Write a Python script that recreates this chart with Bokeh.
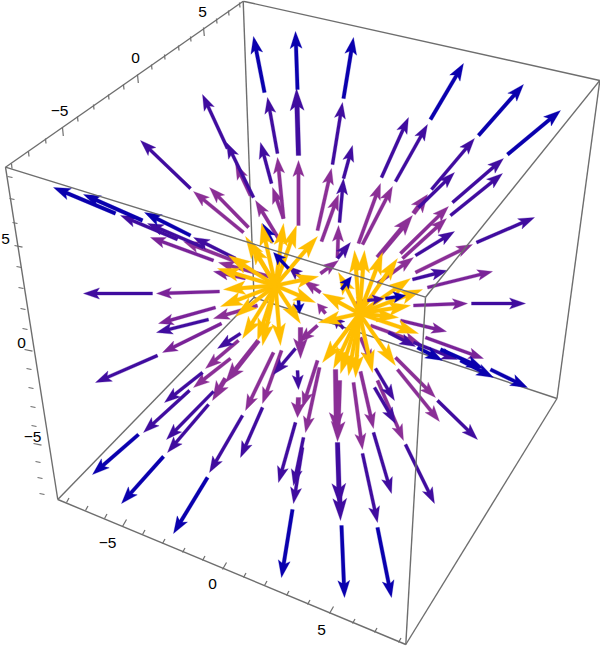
import math
from bokeh.plotting import figure
from bokeh.models import Range1d
from bokeh.core.properties import value
from bokeh.embed import file_html
from bokeh.resources import INLINE

# values, in the picture's projected coordinates: (tail x, tail y, tip x, tip y)
purple = [
 (250,195,235,163),(278,238,255,200),(283,218,272,187),(283,218,277,157),(298,225,298,160),
 (243,232,193,191),(248,227,209,187),(240,263,183,241),(272,277,218,262),
 (320,292,303,280),(325,313,317,303),
 (317,230,331,168),(321,241,338,194),(337,257,338,225),(320,273,338,260),
 (358,243,380,183),(362,244,392,186),(400,253,448,206),
 (402,258,446,218),(415,272,472,244),(377,283,413,257),
 (355,303,365,300),(370,325,420,343),(395,357,435,397),
 (397,369,439,421),(377,380,403,440),(360,371,373,428),(353,382,362,449),
 (360,337,372,365),(317,360,302,407),(319,367,305,432),
 (281,350,262,403),(273,352,245,410),
 (238,340,205,368),(230,358,193,387),(257,305,213,318),
 (317,325,298,342),
]
purple_outer = [
 (213,260,150,237),(245,278,213,271),(219,291,156,293),(427,287,492,271),(413,305,467,303),
 (400,320,446,331),(425,337,483,358),(221,323,162,352),(215,307,158,323),
]
purple_thick = [
 (258,340,225,382),(225,378,212,400),(335,369,336,432),(339,380,337,441),(377,257,412,215),
 (413,213,427,194),(298,397,297,417),(300,327,300,358),
]
indigo = [
 (277,153,267,97),(271,183,260,142),(227,148,202,94),(253,197,226,142),(190,188,140,140),
 (235,258,193,237),(177,239,120,215),(203,247,147,223),(152,293,83,293),(302,278,288,266),
 (332,164,342,102),(339,222,343,178),(343,178,352,145),(337,258,350,242),(381,177,408,117),
 (395,181,427,124),(431,189,474,138),(452,202,503,158),(450,215,502,173),(418,207,454,172),
 (415,255,454,231),(476,242,534,217),(412,279,447,270),(471,303,525,303),(388,332,415,346),
 (413,342,457,359),(437,400,477,439),(375,368,394,400),(374,387,395,423),(405,444,434,503),
 (373,432,391,493),(362,453,377,522),(303,437,293,485),
 (295,422,278,482),(302,447,293,503),(297,370,298,389),(295,348,273,374),(262,407,240,457),
 (242,415,209,472),(240,333,217,348),(202,372,164,402),(189,390,143,432),(213,391,166,439),
 (208,404,167,452),(157,355,95,382),(208,319,156,332),(343,328,332,315),
]
indigo_thick = [(298,155,296,88),(337,442,339,505),(339,490,340,520)]
blue = [
 (264,92,253,36),(297,89,295,31),(115,213,53,187),(142,220,83,194),(190,235,144,212),
 (343,98,353,37),(430,119,463,63),(478,135,523,84),(507,154,560,110),(417,347,442,360),
 (440,349,483,368),(460,360,493,377),(490,369,527,387),(377,527,391,597),(341,525,344,597),
 (292,509,281,577),(207,477,173,533),(138,434,92,474),(163,456,121,503),(272,242,262,223),
]
yellow = [
 (275,285,245,236),(275,285,261,223),(275,285,283,223),(275,285,296,225),(275,285,317,236),
 (275,285,318,276),(275,285,315,302),(275,285,300,323),(275,285,280,345),(275,285,257,340),
 (275,285,242,338),(275,285,235,316),(275,285,220,306),(275,285,223,289),(275,285,217,268),
 (275,285,228,255),(275,285,250,242),(275,285,262,345),
 (359,313,354,250),(359,313,338,272),(359,313,382,252),(359,313,397,258),(359,313,410,278),
 (359,313,422,289),(359,313,410,305),(359,313,398,317),(359,313,418,333),(359,313,395,365),
 (359,313,372,372),(359,313,355,377),(359,313,340,373),(359,313,333,368),(359,313,322,362),
 (359,313,318,322),(359,313,322,293),(359,313,348,375),(359,313,364,250),
]
front_blue = [(288,268,273,252),(341,289,351,276),(385,298,405,295),(298,300,299,313)]
front_indigo = [(367,300,383,298)]

axis_c_a_x = [11,28,45,62,77,93,108,123,137,151,164,178,190,203,216,228,239]
axis_c_a_y = [163,151,138,127,116,104,94,84,74,64,54,45,36,27,18,10,2]
axis_c_e_x = [7,9,12,14,16,18,20,22,24,26,28,30,31,33,35,37,39]
axis_c_e_y = [176,198,222,245,266,287,308,328,349,368,387,406,425,443,461,477,493]
axis_e_f_x = [66,85,104,122,142,162,182,202,222,243,264,286,307,329,352,374,398]
axis_e_f_y = [502,510,518,526,534,543,552,560,569,577,585,595,604,613,623,632,642]
tick_values = [-8,-7,-6,-5,-4,-3,-2,-1,0,1,2,3,4,5,6,7,8]
box_x = dict(A=242.7,B=599.3,C=5,D=425,E=57.3,F=405.3,G=556.5,H=253.5)
box_y = dict(A=0.7,B=80,C=166.7,D=296.7,E=499,F=644,G=398,H=297)
back_edges = ["AH","HE","HG"]
front_edges = ["AB","BD","DC","CA","CE","DF","BG","EF","FG"]
label_text = ["−5","0","5","5","0","−5","−5","0","5"]
label_x = [59,135,202,5,21,32,107,212,321]
label_y = [110,57,11,238,342,436,542,583,629]

def arrow(a, lw, hl, hw):
    x0,y0,x1,y1 = a
    L = math.hypot(x1-x0,y1-y0) or 1
    ux,uy = (x1-x0)/L,(y1-y0)/L
    nx,ny = -uy,ux
    hl = min(hl, L*0.75)
    bx,by = x1-ux*hl, y1-uy*hl
    nch = hl*0.16
    sx,sy = bx+ux*nch, by+uy*nch
    xs = [x0+nx*lw/2, sx+nx*lw/2, bx+nx*hw, x1, bx-nx*hw, sx-nx*lw/2, x0-nx*lw/2]
    ys = [y0+ny*lw/2, sy+ny*lw/2, by+ny*hw, y1, by-ny*hw, sy-ny*lw/2, y0-ny*lw/2]
    return xs,ys

layers = [
 (purple,"#8B2F96",3.4,16,5.6),
 (purple_outer,"#7A2398",3.2,15,5.4),
 (purple_thick,"#8B2F96",4.6,20,7.0),
 (indigo,"#400C9F",3.2,16,5.6),
 (indigo_thick,"#400C9F",4.6,22,7.0),
 (blue,"#0A00AE",3.6,17,6.0),
 (yellow,"#FFBE00",3.8,22,6.8),
 (front_indigo,"#400C9F",3,11,5),
 (front_blue,"#0A00AE",3.2,12,5.5),
]

p = figure(width=600,height=647,x_range=Range1d(0,600),y_range=Range1d(647,0),
           output_backend="svg",toolbar_location=None,min_border=0)
p.axis.visible=False
p.grid.visible=False
p.outline_line_color=None
GRAY="#6E6E6E"

def edges(names):
    p.multi_line([[box_x[e[0]],box_x[e[1]]] for e in names],
                 [[box_y[e[0]],box_y[e[1]]] for e in names],line_color=GRAY,line_width=1.4)

edges(back_edges)
for arrs,col,lw,hl,hw in layers:
    xs,ys=[],[]
    for a in arrs:
        x,y=arrow(a,lw,hl,hw); xs.append(x); ys.append(y)
    p.patches(xs,ys,fill_color=col,line_color=col,line_width=0.3)
edges(front_edges)

def ticks(xb,yb,major,minor):
    X,Y=[],[]
    for x,y,v in zip(xb,yb,tick_values):
        d = major if v%5==0 else minor
        X.append([x,x+d[0]]); Y.append([y,y+d[1]])
    p.multi_line(X,Y,line_color=GRAY,line_width=1.2)
ticks(axis_c_a_x,axis_c_a_y,(0.8,8.5),(0.5,5))
ticks(axis_c_e_x,axis_c_e_y,(8,1.6),(5,1))
ticks(axis_e_f_x,axis_e_f_y,(4,-7),(2.5,-4.5))

p.text(label_x,label_y,text=label_text,text_font=value("Liberation Sans"),text_font_size="15.5px",
       text_color="#000000",text_align="center",text_baseline="middle")

open("out.html","w").write(file_html(p,INLINE))
